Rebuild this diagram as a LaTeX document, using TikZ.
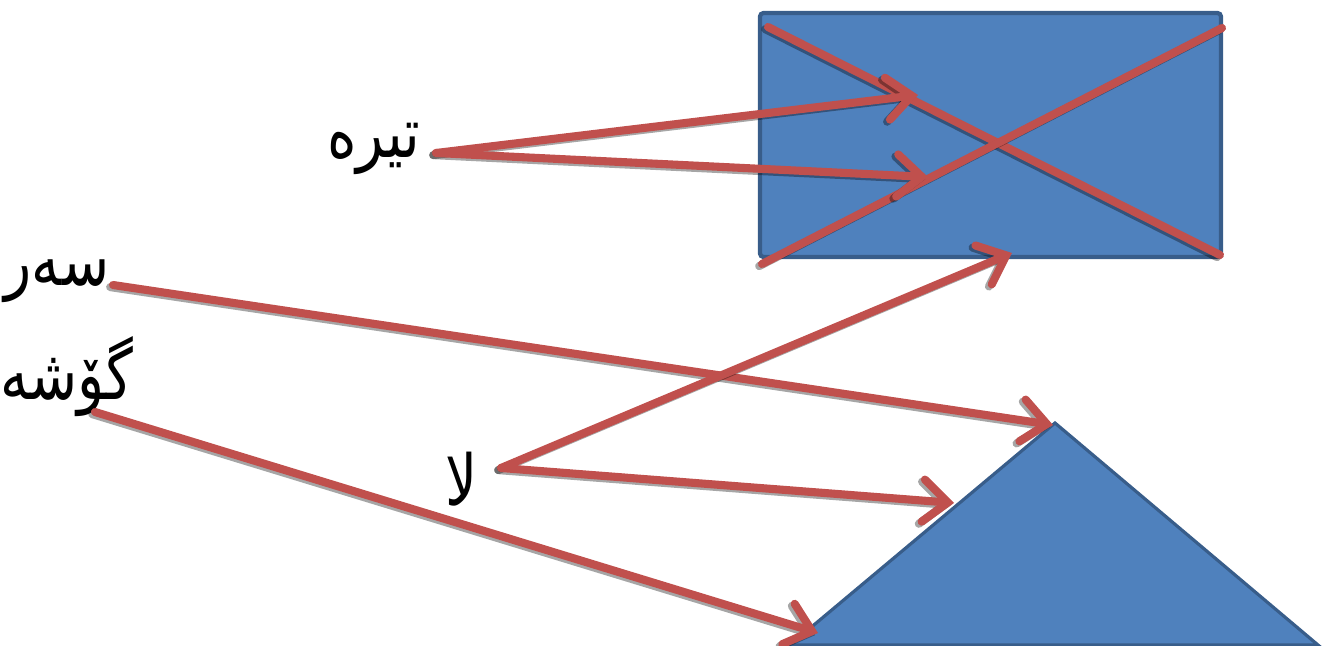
\documentclass[tikz,border=0pt]{standalone}
\usepackage{fontspec}
\newfontfamily\kurdfont[Script=Arabic]{DejaVu Sans}
\TeXXeTstate=1
\usepackage{tikz}
\usetikzlibrary{arrows.meta}
\definecolor{shapeblue}{HTML}{4F81BD}
\definecolor{shapeedge}{HTML}{385D8A}
\definecolor{rayred}{HTML}{C0504D}
\newcommand{\kurd}[1]{\scalebox{0.8}[1]{\beginR #1\endR}}

\begin{document}
\begin{tikzpicture}[x=0.01cm,y=-0.01cm,
    word/.style={font={\kurdfont\fontsize{20}{24}\selectfont},inner sep=0pt},
    redline/.style={draw=rayred,line width=2.3pt,line cap=round},
    ray/.style={redline,-{Straight Barb[length=7pt,width=12pt,line cap=round]}},
    shadow/.style={draw=black,opacity=0.35,transform canvas={xshift=-0.8pt,yshift=-0.6pt}}]
            \useasboundingbox (0,0) rectangle (1329,646);
            % the shapes
            \coordinate (R1) at (760,13);
            \coordinate (R2) at (1221,257);
            \coordinate (T1) at (790,645);
            \coordinate (T2) at (1055,423);
            \coordinate (T3) at (1318,645);
            \draw[fill=shapeblue,draw=shapeedge,line width=1.2pt,rounded corners=1pt] (R1) rectangle (R2);
            \draw[fill=shapeblue,draw=shapeedge,line width=0.9pt] (T1) -- (T2) -- (T3) -- cycle;
            % the cross in the rectangle
            \coordinate (D1) at (768,27);
            \coordinate (D2) at (1220,255);
            \coordinate (D3) at (762,264);
            \coordinate (D4) at (1222,28);
            \foreach \s/\e in {D1/D2,D3/D4} {
                \draw[redline,shadow] (\s) -- (\e);
                \draw[redline] (\s) -- (\e);
            }
            % the words
            \node[word] (tire) at (374,149) {\kurd{تیرە}};
            \node[word] (ser) at (57,281) {\kurd{سەر}};
            \node[word] (gose) at (67,377) {\kurd{گۆشە}};
            \node[word] (la) at (462,479) {\kurd{لا}};
            % the arrows
            \coordinate (A) at (436,153);
            \coordinate (B) at (113,285);
            \coordinate (C) at (95,412);
            \coordinate (L) at (501,468);
            \coordinate (E1) at (918,95);
            \coordinate (E2) at (928,177);
            \coordinate (E3) at (1053,425);
            \coordinate (E4) at (818,633);
            \coordinate (E5) at (1012,253);
            \coordinate (E6) at (954,503);
            \foreach \s/\e in {A/E1,A/E2,B/E3,C/E4,L/E5,L/E6} {
                \draw[ray,shadow] (\s) -- (\e);
                \draw[ray] (\s) -- (\e);
            }
        \end{tikzpicture}
\end{document}
